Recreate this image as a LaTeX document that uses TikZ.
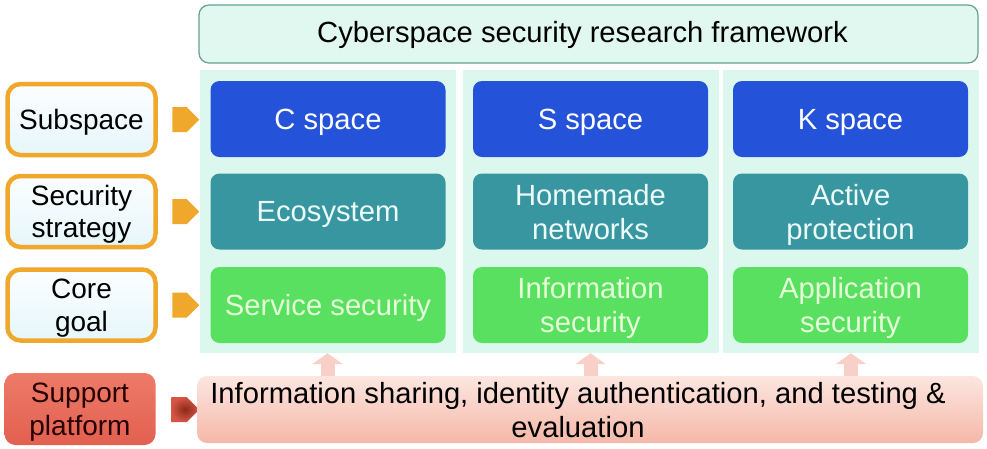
\documentclass[tikz,border=0pt]{standalone}
\usepackage{fontspec}
\setmainfont{Liberation Sans}
\usetikzlibrary{shapes.symbols,arrows.meta}
\definecolor{panelc}{RGB}{220,248,238}
\definecolor{titlefill}{RGB}{224,248,240}
\definecolor{titleborder}{RGB}{100,160,145}
\definecolor{bluec}{RGB}{36,82,216}
\definecolor{tealc}{RGB}{56,150,160}
\definecolor{greenc}{RGB}{90,224,96}
\definecolor{greentext}{RGB}{228,255,216}
\definecolor{tealtext}{RGB}{236,250,250}
\definecolor{orangec}{RGB}{240,168,44}
\definecolor{labeltop}{RGB}{252,254,255}
\definecolor{labelbot}{RGB}{230,246,250}
\definecolor{coraltop}{RGB}{238,122,104}
\definecolor{coralbot}{RGB}{226,96,80}
\definecolor{darkred}{RGB}{140,40,26}
\definecolor{redarrow}{RGB}{214,86,70}
\definecolor{pinktop}{RGB}{252,230,224}
\definecolor{pinkbot}{RGB}{245,184,168}
\definecolor{pinkarrow}{RGB}{248,208,200}
\tikzset{
  bigfont/.style={font=\fontsize{29.2}{34}\selectfont},
  labelfont/.style={font=\fontsize{28}{32.5}\selectfont},
  panel/.style={fill=panelc, minimum width=256, minimum height=283, inner sep=0},
  cell/.style={rounded corners=9, minimum width=235, minimum height=76, inner sep=0, text depth=0pt, align=center, bigfont},
  bluecell/.style={cell, fill=bluec, text=white},
  tealcell/.style={cell, fill=tealc, text=tealtext},
  greencell/.style={cell, fill=greenc, text=greentext},
  rowlabel/.style={rounded corners=13, draw=orangec, line width=4.5, top color=labeltop, bottom color=labelbot, minimum width=148, minimum height=71, inner sep=0, text depth=0pt, align=center, labelfont},
  pointer/.style={signal, signal to=east, fill=orangec, minimum width=27, minimum height=25, inner sep=0},
  uparrow/.style={pinkarrow, line width=14, -{Triangle[width=30pt,length=11pt]}},
}
\begin{document}
\begin{tikzpicture}[x=1pt,y=-1pt]
\useasboundingbox (0,0) rectangle (987,448);
% title
\node[rounded corners=10, draw=titleborder, line width=1.2, fill=titlefill, minimum width=779, minimum height=58, inner sep=0] (title) at (588.5,34) {};
\node[bigfont, text depth=0pt] (titletext) at (582.5,32) {Cyberspace security research framework};
% panels
\node[panel] (p1) at (327.5,211.5) {};
\node[panel] (p2) at (590.5,211.5) {};
\node[panel] (p3) at (851,211.5) {};
% cells
\node[bluecell] (c1) at (328,119) {C space};
\node[bluecell] (c2) at (590.5,119) {S space};
\node[bluecell] (c3) at (850.5,119) {K space};
\node[tealcell] (t1) at (328,211.5) {Ecosystem};
\node[tealcell] (t2) at (590.5,211.5) {Homemade\\networks};
\node[tealcell] (t3) at (850.5,211.5) {Active\\protection};
\node[greencell] (g1) at (328,305) {Service security};
\node[greencell] (g2) at (590.5,305) {Information\\security};
\node[greencell] (g3) at (850.5,305) {Application\\security};
% row labels
\node[rowlabel] (l1) at (81.5,119.5) {Subspace};
\node[rowlabel] (l2) at (81.5,211.5) {Security\\strategy};
\node[rowlabel] (l3) at (81.5,305) {Core\\goal};
\node[rounded corners=11, top color=coraltop, bottom color=coralbot, minimum width=151, minimum height=72, inner sep=0, text depth=0pt, align=center, labelfont, text={black!85!red}] (l4) at (80,409) {Support\\platform};
% pointers
\node[pointer] (a1) at (179.5,119.5) {};
\node[pointer] (a2) at (179.5,211.5) {};
\node[pointer] (a3) at (179.5,305) {};
\node[signal, signal to=east, inner color=darkred, outer color=redarrow, minimum width=28, minimum height=25, inner sep=0] (a4) at (179,409.5) {};
% bottom platform
\node[rounded corners=10, top color=pinktop, bottom color=pinkbot, minimum width=786, minimum height=67, inner sep=0] (plat) at (590,409.5) {};
\node[bigfont, align=center, text depth=0pt] (plattext) at (578,410) {Information sharing, identity authentication, and testing \&\\evaluation};
% up arrows
\draw[uparrow] (plat.north -| p1.south) -- (p1.south);
\draw[uparrow] (plat.north -| p2.south) -- (p2.south);
\draw[uparrow] (plat.north -| p3.south) -- (p3.south);
\end{tikzpicture}
\end{document}
